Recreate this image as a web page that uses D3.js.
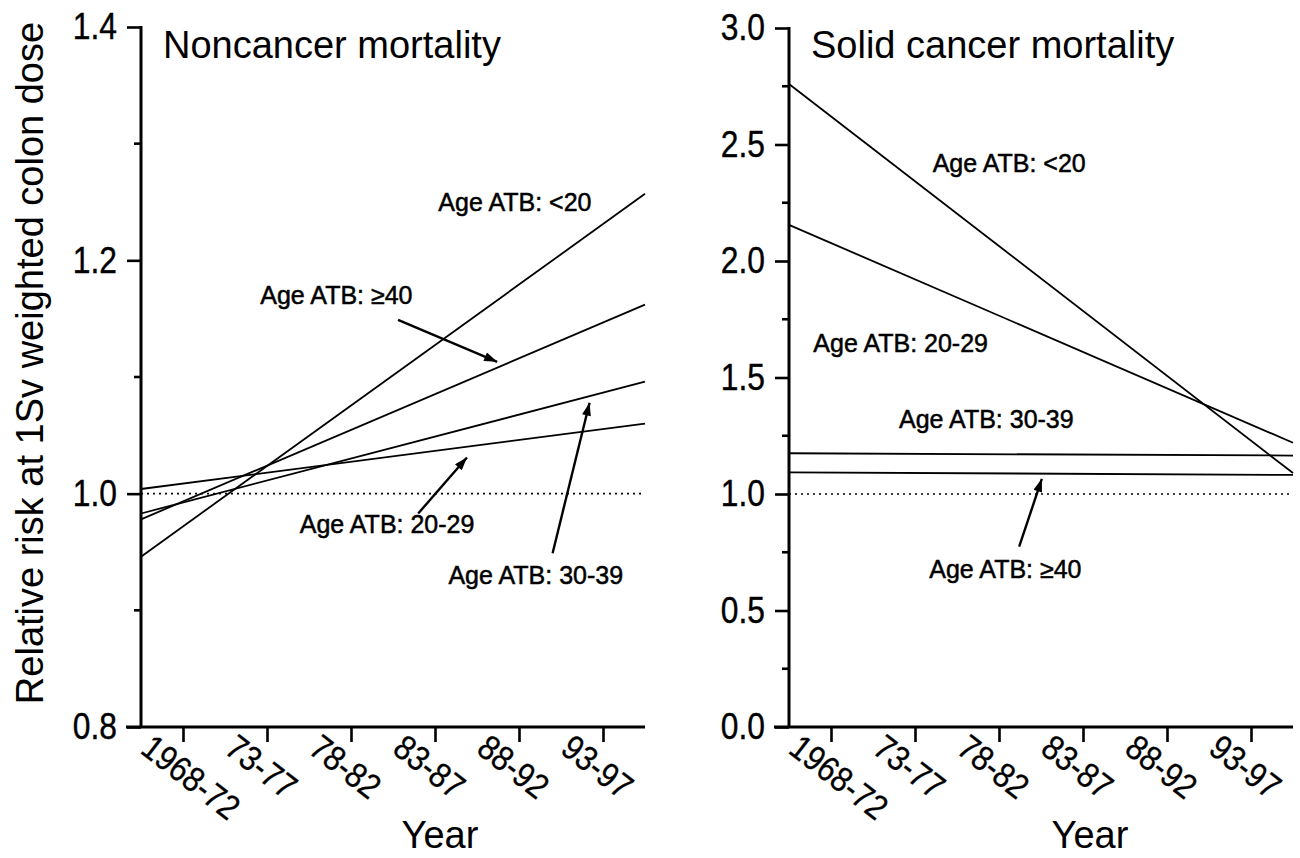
<!DOCTYPE html>
<html lang="en">
<head>
    <meta charset="utf-8">
    <title>Relative risk by calendar period</title>
    <script src="https://d3js.org/d3.v7.min.js"></script>
    <style>
        body { margin: 0; background: #fff; }
        svg { font-family: "Liberation Sans", Arial, sans-serif; }
        .tick-label { font-size: 37px; fill: #000; stroke: #000; stroke-width: 0.4; }
        .period-label { font-size: 35px; fill: #000; stroke: #000; stroke-width: 0.3; }
        .note { font-size: 25px; fill: #000; stroke: #000; stroke-width: 0.5; }
        .title { font-size: 38px; fill: #000; }
    </style>
</head>
<body>
    <svg id="chart" width="1300" height="858"></svg>
    <script>
        // Calendar periods on the x axis
        const periods = ["1968-72", "73-77", "78-82", "83-87", "88-92", "93-97"];
        const ageGroups = ["<20", "20-29", "30-39", "≥40"];

        // Fitted trend lines, value at left and right edge of the period axis
        const noncancerStart = [0.946, 1.004, 0.983, 0.978];
        const noncancerEnd   = [1.257, 1.060, 1.096, 1.162];
        const solidStart     = [2.76, 2.155, 1.175, 1.093];
        const solidEnd       = [1.09, 1.22, 1.165, 1.082];

        // Label notes, in data units (period index, relative risk)
        const noncancerNotes = [
            { text: "Age ATB: <20",   x: 3.04, y: 1.242 },
            { text: "Age ATB: ≥40",   x: 0.92, y: 1.163, from: [2.56, 1.149], to: [3.74, 1.113] },
            { text: "Age ATB: 20-29", x: 1.39, y: 0.966, from: [2.80, 0.983], to: [3.38, 1.031] },
            { text: "Age ATB: 30-39", x: 3.16, y: 0.923, from: [4.40, 0.949], to: [4.84, 1.078] }
        ];
        const solidNotes = [
            { text: "Age ATB: <20",   x: 1.21, y: 2.382 },
            { text: "Age ATB: 20-29", x: -0.21, y: 1.609 },
            { text: "Age ATB: 30-39", x: 0.81, y: 1.283 },
            { text: "Age ATB: ≥40",   x: 1.17, y: 0.639, from: [2.24, 0.774], to: [2.51, 1.065] }
        ];

        const svg = d3.select("#chart");
        const squeeze = 0.86; // narrow look of the original digits

        svg.append("defs").append("marker")
            .attr("id", "head")
            .attr("viewBox", "0 0 13 9")
            .attr("refX", 13).attr("refY", 4.5)
            .attr("markerWidth", 15).attr("markerHeight", 9)
            .attr("markerUnits", "userSpaceOnUse")
            .attr("orient", "auto")
            .append("path").attr("d", "M0,0 L13,4.5 L0,9 z").attr("fill", "#000");

        function panel(opt) {
            const x = d3.scaleLinear().domain([-0.5, periods.length - 0.5]).range([opt.left, opt.left + 504]);
            const y = d3.scaleLinear().domain(opt.domain).range([727, opt.top]);
            const g = svg.append("g");

            // reference line at RR = 1
            g.append("line")
                .attr("x1", x(-0.5)).attr("x2", x(periods.length - 0.5))
                .attr("y1", y(1)).attr("y2", y(1))
                .attr("stroke", "#000").attr("stroke-width", 1.6)
                .attr("stroke-dasharray", "2,4");

            // trend lines
            const line = d3.line().x(d => x(d[0])).y(d => y(d[1]));
            ageGroups.forEach((a, i) => {
                g.append("path")
                    .datum([[-0.5, opt.start[i]], [periods.length - 0.5, opt.end[i]]])
                    .attr("d", line)
                    .attr("fill", "none")
                    .attr("stroke", "#000")
                    .attr("stroke-width", 1.8);
            });

            // y axis
            const yAxis = g.append("g")
                .attr("transform", `translate(${opt.left},0)`)
                .call(d3.axisLeft(y).tickValues(opt.major).tickSize(14).tickPadding(10).tickFormat(d3.format(".1f")));
            yAxis.select(".domain").remove();
            yAxis.selectAll(".tick line").attr("stroke-width", 2.6);
            yAxis.selectAll(".tick text")
                .attr("class", "tick-label").attr("font-size", null).attr("font-family", null)
                .attr("x", -24 / squeeze)
                .attr("transform", `scale(${squeeze},1)`);
            yAxis.selectAll(".minor").data(opt.minor).enter().append("line")
                .attr("x1", -7).attr("x2", 0)
                .attr("y1", d => y(d)).attr("y2", d => y(d))
                .attr("stroke", "#000").attr("stroke-width", 2.6);
            g.append("line")
                .attr("x1", opt.left).attr("x2", opt.left)
                .attr("y1", 727).attr("y2", y(opt.domain[1]) - 1)
                .attr("stroke", "#000").attr("stroke-width", 3);

            // x axis
            const xAxis = g.append("g")
                .attr("transform", "translate(0,727)")
                .call(d3.axisBottom(x).tickValues(d3.range(periods.length)).tickSize(15).tickFormat(() => ""));
            xAxis.select(".domain").remove();
            xAxis.selectAll(".tick line").attr("stroke-width", 2.6);
            g.append("line")
                .attr("x1", opt.left - 15).attr("x2", x(periods.length - 0.5))
                .attr("y1", 727).attr("y2", 727)
                .attr("stroke", "#000").attr("stroke-width", 3.2);
            g.selectAll(".period-label").data(periods).enter().append("text")
                .attr("class", "period-label")
                .attr("transform", (d, i) => `translate(${x(i) - 44},752) rotate(38) scale(0.88,1)`)
                .text(d => d);

            g.append("text").attr("class", "title")
                .attr("text-anchor", "middle")
                .attr("font-size", 36)
                .attr("x", opt.yearX).attr("y", 848)
                .text("Year");

            g.append("text").attr("class", "title")
                .attr("x", opt.left + 22).attr("y", 58)
                .text(opt.title);

            // notes and arrows
            opt.notes.forEach(n => {
                g.append("text").attr("class", "note")
                    .attr("x", x(n.x)).attr("y", y(n.y))
                    .text(n.text);
                if (n.from) {
                    g.append("line")
                        .attr("x1", x(n.from[0])).attr("y1", y(n.from[1]))
                        .attr("x2", x(n.to[0])).attr("y2", y(n.to[1]))
                        .attr("stroke", "#000").attr("stroke-width", 2.4)
                        .attr("marker-end", "url(#head)");
                }
            });
        }

        panel({
            left: 141, top: 27, domain: [0.8, 1.4],
            major: [0.8, 1.0, 1.2, 1.4], minor: [0.9, 1.1, 1.3],
            start: noncancerStart, end: noncancerEnd,
            notes: noncancerNotes, title: "Noncancer mortality", yearX: 440
        });
        panel({
            left: 789, top: 28, domain: [0, 3],
            major: [0, 0.5, 1, 1.5, 2, 2.5, 3], minor: [0.25, 0.75, 1.25, 1.75, 2.25, 2.75],
            start: solidStart, end: solidEnd,
            notes: solidNotes, title: "Solid cancer mortality", yearX: 1090
        });

        svg.append("text").attr("class", "title")
            .attr("font-size", 37)
            .attr("text-anchor", "middle")
            .attr("transform", "translate(43,363) rotate(-90)")
            .text("Relative risk at 1Sv weighted colon dose");
    </script>
</body>
</html>
